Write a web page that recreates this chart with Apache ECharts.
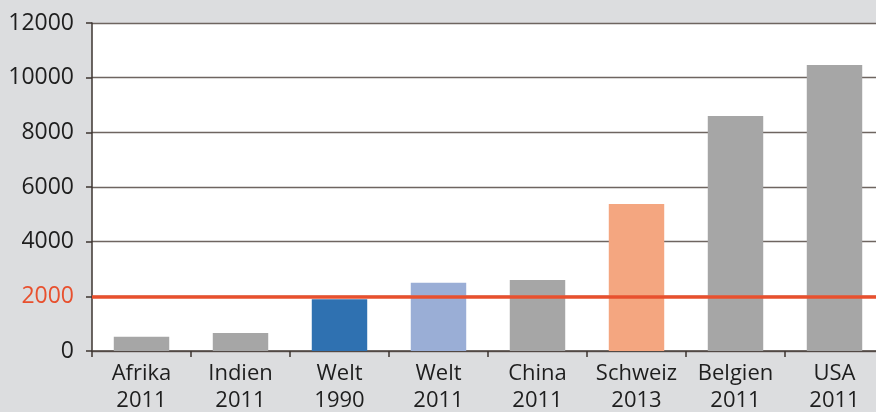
<!DOCTYPE html>
<html><head><meta charset="utf-8">
<script src="https://cdn.jsdelivr.net/npm/echarts@6/dist/echarts.min.js"></script>
<style>html,body{margin:0;padding:0;background:#dcdddf;}#c{width:876px;height:412px;}</style>
</head><body><div id="c"></div>
<script>
const categories = ['Afrika\n2011','Indien\n2011','Welt\n1990','Welt\n2011','China\n2011','Schweiz\n2013','Belgien\n2011','USA\n2011'];
const values = [520, 660, 1890, 2500, 2600, 5380, 8600, 10460];
const barColors = ['#a6a6a6','#a6a6a6','#2f71b1','#9aaed6','#a6a6a6','#f4a680','#a6a6a6','#a6a6a6'];
const threshold = 2000;
const yTicks = [0, 2000, 4000, 6000, 8000, 10000, 12000];

const chart = echarts.init(document.getElementById('c'));
chart.setOption({
  backgroundColor: '#dcdddf',
  animation: false,
  grid: { left: 92, top: 23, right: -8, height: 328, show: true, backgroundColor: '#ffffff', borderWidth: 0,
          containLabel: false, outerBoundsMode: 'none' },
  xAxis: {
    type: 'category', data: categories,
    axisLine: { lineStyle: { color: '#4a403c', width: 1.5 } },
    axisTick: { show: true, interval: 0, length: 6, lineStyle: { color: '#3c3431', width: 1.5 } },
    axisLabel: { interval: 0, hideOverlap: false, fontFamily: 'Open Sans', fontSize: 22, color: '#1e1e1e', lineHeight: 27, margin: 9 }
  },
  yAxis: {
    type: 'value', min: yTicks[0], max: yTicks[yTicks.length-1], interval: 2000,
    axisLine: { show: true, lineStyle: { color: '#3c3431', width: 1.5 } },
    axisTick: { show: true, length: 6, lineStyle: { color: '#3c3431', width: 1.5 } },
    splitLine: { lineStyle: { color: '#6e6560', width: 1.3 } },
    axisLabel: { fontFamily: 'Open Sans', fontSize: 23, margin: 18,
      formatter: function (v) { return String(v); },
      color: function (v) { return Number(v) === threshold ? '#e8502e' : '#1e1e1e'; } }
  },
  series: [{
    type: 'bar', barCategoryGap: '44%',
    data: values.map((v, i) => ({ value: v, itemStyle: { color: barColors[i] } })),
    markLine: {
      silent: true, symbol: 'none', label: { show: false },
      lineStyle: { color: '#e8502e', width: 3.5, type: 'solid' },
      data: [{ yAxis: threshold }]
    }
  }]
});
</script></body></html>
